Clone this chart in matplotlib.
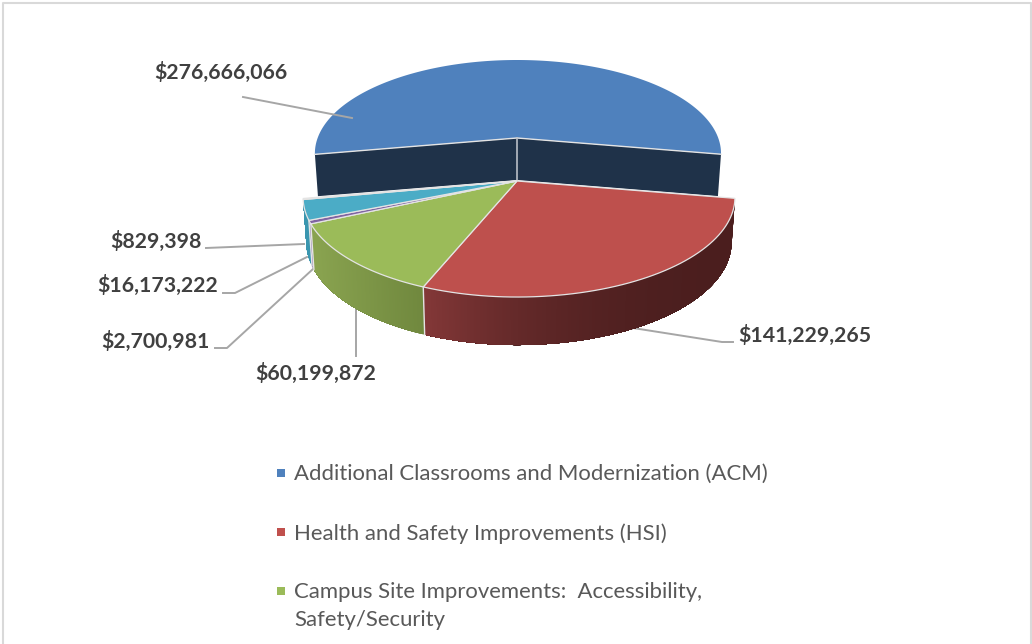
import numpy as np
import matplotlib
matplotlib.use('Agg')
import matplotlib.pyplot as plt

plt.rcParams['font.family'] = ['Lato', 'DejaVu Sans']

# values of the slices, clockwise from the right hand side
values = [141229265, 60199872, 2700981, 16173222, 829398, 276666066]
colors = ['#BE504D', '#9BBB59', '#8064A2', '#4BACC6', '#F79646', '#4F81BD']
legend_labels = ['Additional Classrooms and Modernization (ACM)',
                 'Health and Safety Improvements (HSI)',
                 'Campus Site Improvements:  Accessibility,\nSafety/Security']
legend_colors = ['#4F81BD', '#C0504D', '#9BBB59']

# label position (left, middle) and leader line for each value, in pixels
label_pos = [(738, 335), (255, 373), (101, 341), (97, 285), (110, 241), (154, 72)]
leaders = [[(633, 328), (722, 342), (733, 342)],
           [(356, 308), (356, 356)],
           [(215, 348), (227, 348), (313, 269)],
           [(223, 293), (235, 293), (307, 257)],
           [(206, 248), (304, 244)],
           [(243, 97), (352, 118)]]

# perspective of the disc
CX, CY = 517, 181
A, B, P = 215, 97, 0.164
A_LEFT = 211  # front slices are a bit narrower on the left
A_LEFT_BLUE = 213
START = 10.0


def top(deg, x0=CX, y0=CY, s=1.0, a_left=A):
    t = np.radians(deg)
    w = 1 - P * np.sin(t)
    u = np.cos(t)
    return x0 + s * np.where(u < 0, a_left, A) * u / w, y0 + s * B * np.sin(t) / w


def bottom(deg, x0=CX, y0=CY, s=1.0, a_left=A):
    x, y = top(deg, x0, y0, s, a_left)
    return x0 + (x - x0) * 0.985, y + (44 + 4 * np.sin(np.radians(deg))) * s


def rim(a1, a2, col_left, col_right, power=1.0):
    # outer wall: every strip runs on to the end of the wall, so no seams show
    steps = np.linspace(a1, a2, max(int(abs(a2 - a1) * 3), 2))
    x_l = float(top(a2, a_left=A_LEFT)[0])
    x_r = float(top(a1, a_left=A_LEFT)[0])
    for d in steps[:-1]:
        th = np.linspace(d, a2, 40)
        xt, yt = top(th, a_left=A_LEFT)
        xb, yb = bottom(th[::-1], a_left=A_LEFT)
        f = (float(top(d, a_left=A_LEFT)[0]) - x_l) / (x_r - x_l)
        f = 1 - (1 - f) ** power
        c = tuple((np.array(col_left) + (np.array(col_right) - np.array(col_left)) * f) / 255)
        ax.fill(np.concatenate([xt, xb]), np.concatenate([yt, yb]), color=c, lw=0, zorder=3)


fig = plt.figure(figsize=(10.32, 6.44), dpi=100)
ax = fig.add_axes([0, 0, 1, 1])
ax.set_xlim(0, 1032)
ax.set_ylim(644, 0)
ax.axis('off')

# chart border, runs off the bottom of the picture
ax.plot([3, 3, 1030.5, 1030.5], [650, 3, 3, 650], color='#D9D9D9', lw=1.5, zorder=1)

spans = np.array(values) / sum(values) * 360
edges = START + np.concatenate([[0], np.cumsum(spans)])
EDGE = '#E4E4E4'

# blue slice, pulled out towards the back
bx, by, bs = CX, 138, 0.936
a1, a2 = edges[5], edges[6]
navy = '#1F3249'
for d in (a1, a2):
    xt, yt = top(d, bx, by, bs, A_LEFT_BLUE)
    xb, yb = bottom(d, bx, by, bs, A_LEFT_BLUE)
    ax.fill([bx, xt, xb, bx], [by, yt, yb, by + 42], color=navy, lw=0, zorder=2)
    ax.plot([bx, xt], [by, yt], color=EDGE, lw=1, zorder=2.5)
ax.plot([bx, bx], [by, by + 42], color='#B8BEC6', lw=1.2, zorder=2.5)
th = np.linspace(a1, a2, 200)
xs, ys = top(th, bx, by, bs, A_LEFT_BLUE)
ax.fill(np.append(xs, bx), np.append(ys, by), color=colors[5], lw=0, zorder=2.2)

# walls of the front slices
rim(edges[0], edges[1], (132, 56, 56), (75, 30, 30), power=2.2)
rim(edges[1], edges[2], (138, 164, 80), (112, 136, 62))
rim(edges[2], edges[3], (128, 100, 162), (128, 100, 162))
rim(edges[3], edges[4], (58, 150, 175), (58, 150, 175))

# light seams on the walls
for d in (edges[1], edges[2], edges[3]):
    xt, yt = top(d, a_left=A_LEFT)
    xb, yb = bottom(d, a_left=A_LEFT)
    ax.plot([xt, xb], [yt, yb], color=EDGE, lw=1, zorder=3.2)

# top faces
for i in range(5):
    th = np.linspace(edges[i], edges[i + 1], 60)
    xs, ys = top(th, a_left=A_LEFT)
    ax.fill(np.append(xs, CX), np.append(ys, CY), facecolor=colors[i], edgecolor=EDGE,
            lw=0.9, joinstyle='miter', zorder=4)

# leader lines
for i, pts in enumerate(leaders):
    z = 5 if i == 5 else 2.8
    ax.plot([p[0] for p in pts], [p[1] for p in pts], color='#A6A6A6', lw=1.4, zorder=z)

# value labels
for v, (x, y) in zip(values, label_pos):
    ax.text(x, y, f'${v:,}', fontsize=15.3, fontweight='bold', color='#404040',
            ha='left', va='center', zorder=6)

# legend
legend_y = [473, 532, 591]
for lab, col, y in zip(legend_labels, legend_colors, legend_y):
    ax.scatter([281], [y], marker='s', s=30, color=col, lw=0, zorder=6)
    ax.text(294, y - 9, lab, fontsize=15.9, color='#595959', ha='left', va='top',
            linespacing=1.53, zorder=6)

fig.savefig('out.png', dpi=100)
